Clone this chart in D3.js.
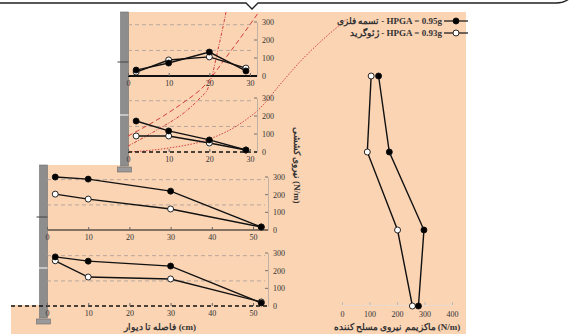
<!DOCTYPE html>
<html>
<head>
<meta charset="utf-8">
<script src="https://cdn.jsdelivr.net/npm/d3@7"></script>
<style>
  body { margin: 0; background: #fff; }
  svg { display: block; }
  text { font-family: "Liberation Serif", "DejaVu Serif", serif; fill: #333; }
</style>
</head>
<body>
<div id="app"></div>
<script>
// distance from the wall (cm) of the measuring points, upper and lower wall
const distUpper = [2, 10, 20, 29];
const distLower = [2, 10, 30, 52];

// tensile force (N/m) along each reinforcement layer, top to bottom
const stripA = [33, 72, 133, 28];
const gridA = [22, 89, 106, 44];
const stripB = [172, 117, 67, 11];
const gridB = [89, 89, 50, 11];
const stripC = [300, 288, 220, 17];
const gridC = [203, 175, 119, 17];
const stripD = [278, 254, 226, 17];
const gridD = [256, 164, 153, 23];

// max reinforcement force per layer (N/m)
const maxStrip = [133, 172, 298, 278];
const maxGrid = [106, 92, 202, 256];

const forceTicks = [0, 100, 200, 300];
const upperDistTicks = [0, 10, 20, 30];
const lowerDistTicks = [0, 10, 20, 30, 40, 50];
const maxTicks = [0, 100, 200, 300, 400];
const softLines = [285, 142];

// failure surfaces, as [distance cm, force units of layer B]
const surfDotted = [[0, 0], [10, 22], [20, 72], [27.5, 156], [32.5, 244], [37.5, 378], [42, 494], [53.5, 733]];
const surfDashed = [[0, 89], [7.9, 189], [14.5, 289], [17.7, 344], [25.1, 556], [32, 772]];
const surfDashDot = [[0, 33], [7.9, 133], [14, 222], [17.7, 300], [19.7, 356], [20.9, 444], [22.1, 567], [23.1, 667], [24.1, 778]];

const legendLabels = ['تسمه فلزی - HPGA = 0.95g', 'ژئوگرید - HPGA = 0.93g'];

const width = 574, height = 334;
const peach = '#fbd4b4';
const red = '#cf2f2f';

const svg = d3.select('#app').append('svg')
  .attr('width', width)
  .attr('height', height);

// soil backfill
svg.append('path')
  .attr('d', 'M121,12H466V334H11V305H42V165H121Z')
  .attr('fill', peach);

// callout frame at top
svg.append('path')
  .attr('d', 'M0,3H246L252,9L258,3H556Q568,3 573,-6')
  .attr('fill', 'none')
  .attr('stroke', '#222')
  .attr('stroke-width', 1.3);

// walls and footings
function wall(x, y0, y1, marks) {
  svg.append('rect').attr('x', x).attr('y', y0).attr('width', 8).attr('height', y1 - y0)
    .attr('fill', '#8d8d8d').attr('stroke', '#707070').attr('stroke-width', 0.6);
  svg.append('rect').attr('x', x - 3).attr('y', y1 + 1).attr('width', 14).attr('height', 5)
    .attr('fill', '#9a9a9a').attr('stroke', '#6a6a6a').attr('stroke-width', 0.6);
  marks.forEach(m => {
    svg.append('line').attr('x1', x - 3).attr('x2', x + 8).attr('y1', m.y).attr('y2', m.y)
      .attr('stroke', m.c).attr('stroke-width', 1);
  });
}
wall(120.5, 12, 166, [{ y: 62, c: '#444' }, { y: 115, c: '#fff' }]);
wall(39.5, 165, 318, [{ y: 217, c: '#444' }, { y: 268, c: '#fff' }]);

const panels = [
  { strip: stripA, grid: gridA, dist: distUpper, dom: 30, xr: [128, 250], base: 76, h: 54, axisX: 257, left: 128, ticks: upperDistTicks, line: 'solid' },
  { strip: stripB, grid: gridB, dist: distUpper, dom: 30, xr: [128, 250], base: 152, h: 54, axisX: 257, left: 128, ticks: upperDistTicks, line: 'dashed' },
  { strip: stripC, grid: gridC, dist: distLower, dom: 50, xr: [47, 253], base: 230, h: 53, axisX: 268, left: 48, ticks: lowerDistTicks, line: 'thin' },
  { strip: stripD, grid: gridD, dist: distLower, dom: 50, xr: [47, 253], base: 306, h: 53, axisX: 268, left: 11, ticks: lowerDistTicks, line: 'dashed' }
];

panels.forEach(p => {
  p.x = d3.scaleLinear().domain([0, p.dom]).range(p.xr);
  p.y = d3.scaleLinear().domain([0, 300]).range([p.base, p.base - p.h]);
});

// gray dashed soil lines
panels.forEach(p => {
  svg.append('g').selectAll('line').data(softLines).join('line')
    .attr('x1', p.x(0)).attr('x2', p.axisX - 3)
    .attr('y1', d => p.y(d)).attr('y2', d => p.y(d))
    .attr('stroke', '#a89c94').attr('stroke-width', 0.8).attr('stroke-dasharray', '4,3');
});

// failure surfaces drawn in layer B's frame
const pB = panels[1];
const surfLine = d3.line().x(d => pB.x(d[0])).y(d => pB.y(d[1])).curve(d3.curveMonotoneX);
[[surfDotted, '1.5,1.5'], [surfDashed, '5,3'], [surfDashDot, '3,1.5,1,1.5']].forEach(([pts, dash]) => {
  svg.append('path').attr('d', surfLine(pts))
    .attr('fill', 'none').attr('stroke', red).attr('stroke-width', 0.9)
    .attr('stroke-dasharray', dash);
});

panels.forEach(p => {
  const g = svg.append('g');
  // baseline
  const bl = g.append('line').attr('x1', p.left).attr('x2', p.axisX)
    .attr('y1', p.base).attr('y2', p.base).attr('stroke', '#111');
  if (p.line === 'solid') bl.attr('stroke-width', 2);
  if (p.line === 'thin') bl.attr('stroke-width', 1);
  if (p.line === 'dashed') bl.attr('stroke-width', 1.4).attr('stroke-dasharray', '4,3');

  // x tick labels
  const xa = g.append('g').attr('transform', `translate(0,${p.base})`)
    .call(d3.axisBottom(p.x).tickValues(p.ticks).tickSize(3).tickSizeOuter(0));
  xa.select('.domain').remove();
  xa.selectAll('line').attr('stroke', '#666').attr('transform', 'translate(0,-3)');
  xa.selectAll('text').attr('font-size', 8).attr('dy', '0.45em').attr('fill', '#333');

  // right force axis
  const ya = g.append('g').attr('transform', `translate(${p.axisX},0)`)
    .call(d3.axisRight(p.y).tickValues(forceTicks).tickSize(0).tickSizeOuter(0).tickPadding(5));
  ya.select('.domain').attr('stroke', '#999').attr('stroke-width', 0.6);
  ya.selectAll('text').attr('font-size', 8).attr('fill', '#333').attr('font-family', 'Liberation Serif');
  g.selectAll('.tk').data(forceTicks.slice(1)).join('line')
    .attr('x1', p.axisX - 3).attr('x2', p.axisX)
    .attr('y1', d => p.y(d)).attr('y2', d => p.y(d))
    .attr('stroke', '#555').attr('stroke-width', 0.8);

  const line = d3.line().x((d, i) => p.x(p.dist[i])).y(d => p.y(d));
  [[p.grid, '#fff'], [p.strip, '#000']].forEach(([vals, fill]) => {
    g.append('path').attr('d', line(vals)).attr('fill', 'none')
      .attr('stroke', '#111').attr('stroke-width', 1.4);
    g.selectAll(null).data(vals).join('circle')
      .attr('cx', (d, i) => p.x(p.dist[i])).attr('cy', d => p.y(d))
      .attr('r', 3).attr('fill', fill).attr('stroke', '#111').attr('stroke-width', 0.9);
  });
});

// max reinforcement force panel
const xm = d3.scaleLinear().domain([0, 400]).range([342, 452]);
const ym = d3.scaleOrdinal().domain(d3.range(panels.length)).range(panels.map(p => p.base));
const mAxis = svg.append('g').attr('transform', 'translate(0,305)')
  .call(d3.axisTop(xm).tickValues(maxTicks).tickSize(3).tickSizeOuter(0));
mAxis.select('.domain').attr('stroke', '#ddd').attr('stroke-width', 0.6);
mAxis.selectAll('line').attr('stroke', '#bbb');
mAxis.selectAll('text').attr('font-size', 8).attr('fill', '#333').attr('y', 9).attr('dy', '0.32em');

const mLine = d3.line().x(d => xm(d)).y((d, i) => ym(i));
[[maxGrid, '#fff'], [maxStrip, '#000']].forEach(([vals, fill]) => {
  svg.append('path').attr('d', mLine(vals)).attr('fill', 'none')
    .attr('stroke', '#111').attr('stroke-width', 1.4);
  svg.append('g').selectAll('circle').data(vals).join('circle')
    .attr('cx', d => xm(d)).attr('cy', (d, i) => ym(i))
    .attr('r', 3).attr('fill', fill).attr('stroke', '#111').attr('stroke-width', 0.9);
});

// legend
const lg = svg.append('g');
legendLabels.forEach((lab, i) => {
  const y = 21 + i * 12;
  lg.append('line').attr('x1', 444).attr('x2', 468).attr('y1', y).attr('y2', y)
    .attr('stroke', '#111').attr('stroke-width', 1.2);
  lg.append('circle').attr('cx', 456).attr('cy', y).attr('r', 3)
    .attr('fill', i === 0 ? '#000' : '#fff').attr('stroke', '#111').attr('stroke-width', 0.9);
  lg.append('text').attr('x', 442).attr('y', y).attr('dy', '0.35em')
    .attr('text-anchor', 'end').attr('font-size', 9).attr('font-weight', 'bold')
    .attr('fill', '#222').text(lab);
});

// axis titles
svg.append('text').attr('x', 160).attr('y', 330).attr('text-anchor', 'middle')
  .attr('font-size', 9).attr('font-weight', 'bold').attr('fill', '#222')
  .text('فاصله تا دیوار (cm)');
svg.append('text').attr('x', 397).attr('y', 330).attr('text-anchor', 'middle')
  .attr('font-size', 9).attr('font-weight', 'bold').attr('fill', '#222')
  .text('ماکزیمم نیروی مسلح کننده (N/m)');
svg.append('text').attr('transform', 'translate(294,165) rotate(90)')
  .attr('text-anchor', 'middle').attr('font-size', 9).attr('font-weight', 'bold').attr('fill', '#222')
  .text('نیروی کششی (N/m)');
</script>
</body>
</html>
